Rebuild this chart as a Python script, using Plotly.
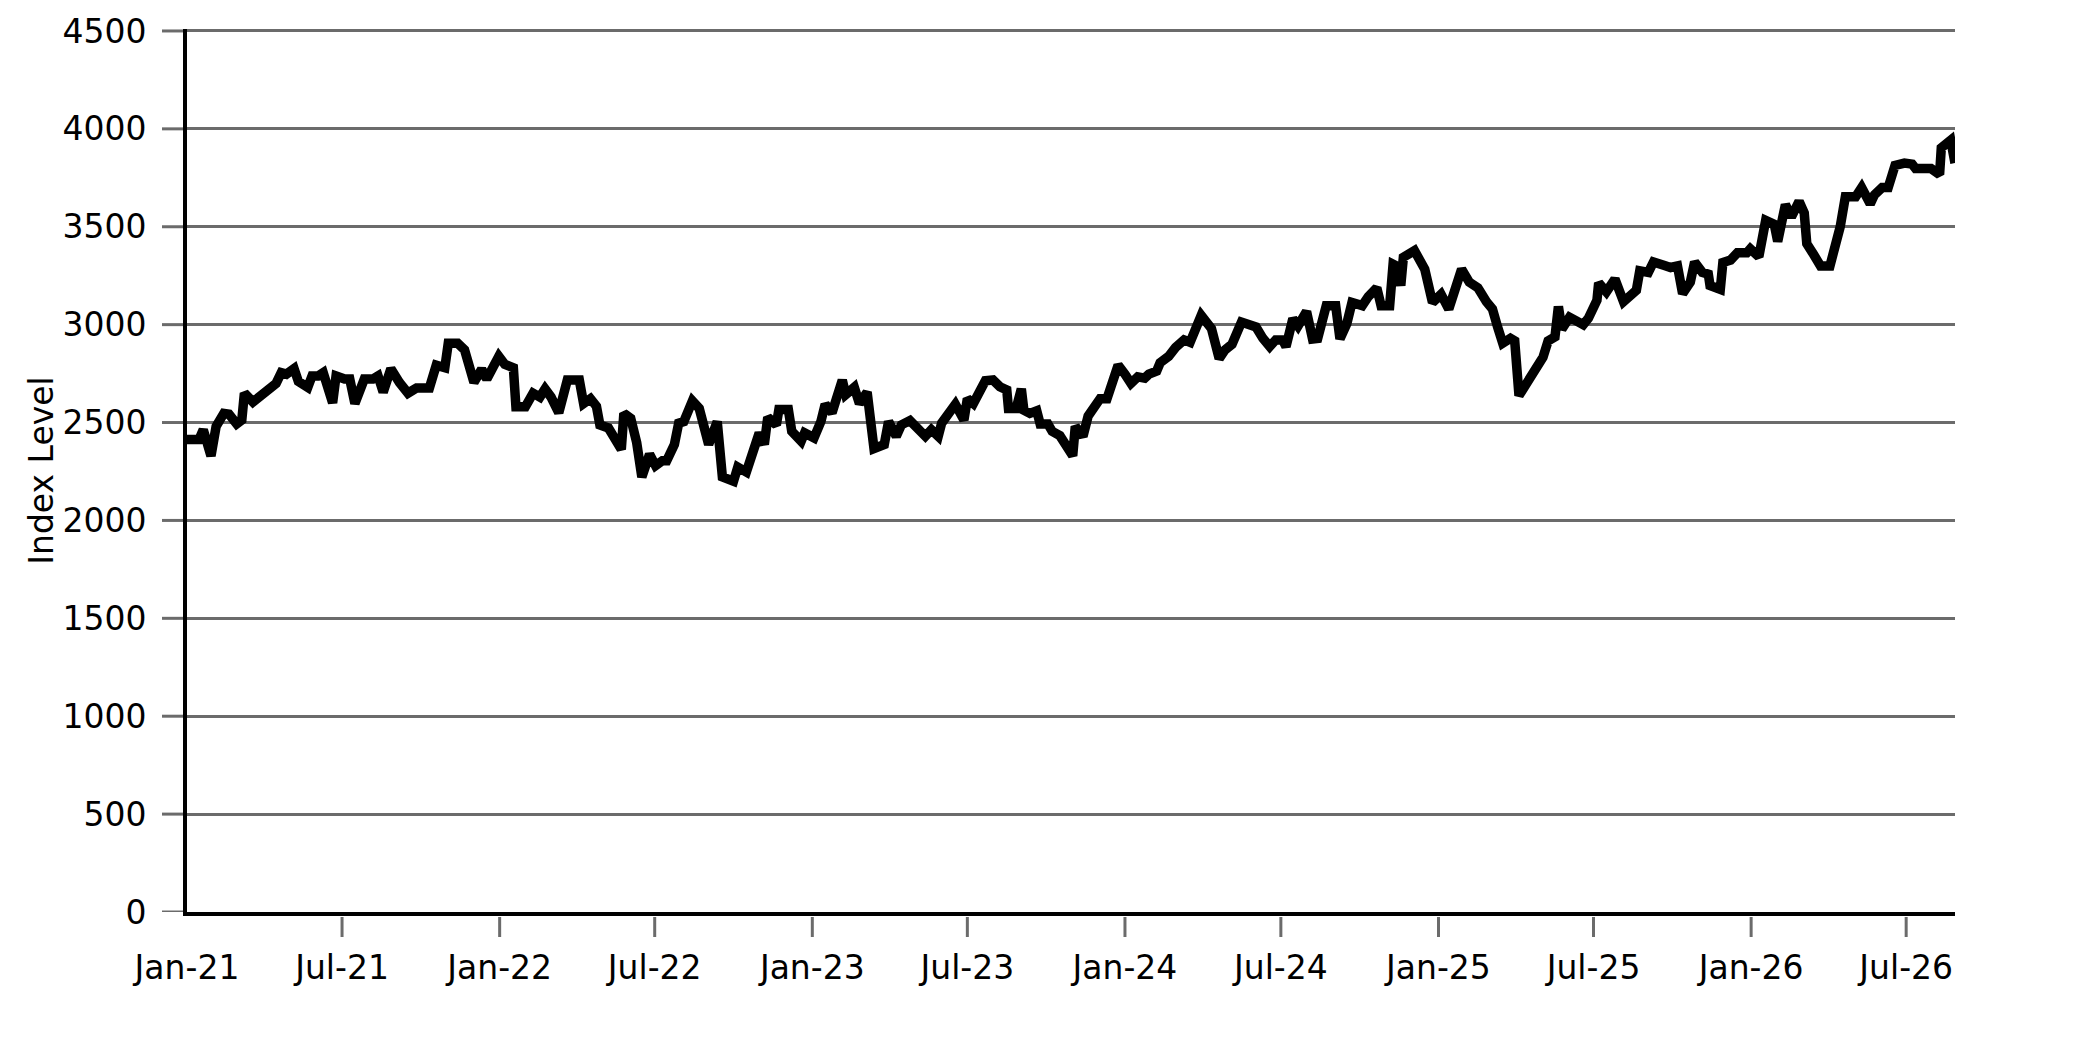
import pandas as pd
import plotly.graph_objects as go

# Index level: days since 2021-01-01 and value at each vertex
day_offsets = [
    0, 14, 19, 28, 34, 43, 49, 58, 64, 67, 77, 84, 93, 104, 110, 116, 125, 130, 141, 146,
    153, 159, 170, 174, 184, 190, 196, 207, 217, 223, 229, 238, 248, 258, 268, 283, 291, 301, 305, 316,
    324, 335, 344, 350, 364, 371, 381, 384, 395, 404, 412, 418, 425, 434, 444, 458, 463, 471, 478, 482,
    492, 500, 507, 510, 518, 525, 531, 540, 547, 555, 560, 569, 574, 580, 590, 598, 609, 619, 625, 638,
    643, 653, 668, 674, 678, 688, 691, 702, 706, 717, 721, 732, 740, 745, 753, 765, 769, 779, 785, 794,
    802, 814, 819, 828, 834, 844, 853, 862, 869, 877, 881, 888, 897, 907, 911, 918, 925, 932, 941, 949,
    957, 959, 968, 974, 977, 984, 992, 996, 1005, 1010, 1019, 1027, 1034, 1037, 1046, 1052, 1060, 1066, 1074, 1080,
    1087, 1095, 1102, 1110, 1118, 1123, 1132, 1136, 1146, 1154, 1164, 1171, 1184, 1196, 1205, 1212, 1220, 1231, 1248, 1256,
    1264, 1271, 1279, 1283, 1291, 1297, 1307, 1314, 1320, 1330, 1341, 1346, 1354, 1360, 1372, 1379, 1389, 1394, 1404, 1408,
    1412, 1417, 1420, 1433, 1445, 1454, 1464, 1473, 1488, 1497, 1507, 1517, 1524, 1530, 1536, 1545, 1550, 1555, 1568, 1575,
    1583, 1589, 1597, 1601, 1605, 1614, 1622, 1630, 1636, 1646, 1648, 1657, 1667, 1677, 1692, 1696, 1706, 1712, 1724, 1732,
    1740, 1746, 1755, 1760, 1769, 1776, 1778, 1790, 1793, 1802, 1810, 1821, 1825, 1835, 1843, 1853, 1857, 1866, 1873, 1882,
    1888, 1891, 1899, 1907, 1918, 1924, 1930, 1936, 1948, 1955, 1965, 1970, 1979, 1986, 1994, 2005, 2014, 2018, 2036, 2046,
    2048, 2059, 2064,
]
index_level = [
    2413, 2413, 2463, 2330, 2480, 2547, 2543, 2493, 2513, 2650, 2605, 2630, 2650, 2700, 2755, 2747, 2775, 2710, 2680, 2738,
    2738, 2755, 2600, 2738, 2722, 2722, 2597, 2722, 2722, 2738, 2655, 2775, 2705, 2650, 2677, 2677, 2793, 2780, 2905, 2905,
    2872, 2705, 2772, 2722, 2838, 2797, 2780, 2580, 2580, 2650, 2630, 2672, 2630, 2550, 2717, 2717, 2597, 2622, 2583, 2488,
    2472, 2405, 2363, 2547, 2522, 2397, 2222, 2338, 2280, 2305, 2305, 2388, 2497, 2505, 2610, 2572, 2388, 2505, 2222, 2200,
    2272, 2247, 2447, 2388, 2527, 2488, 2567, 2567, 2455, 2405, 2447, 2422, 2505, 2593, 2550, 2717, 2643, 2680, 2597, 2655,
    2367, 2388, 2505, 2430, 2488, 2510, 2472, 2430, 2463, 2430, 2497, 2533, 2593, 2513, 2622, 2597, 2650, 2713, 2717, 2683,
    2667, 2572, 2572, 2672, 2563, 2547, 2560, 2493, 2493, 2455, 2433, 2383, 2330, 2480, 2430, 2533, 2583, 2622, 2622, 2722,
    2793, 2747, 2700, 2733, 2727, 2747, 2763, 2805, 2838, 2883, 2922, 2910, 3047, 2980, 2827, 2872, 2900, 3013, 2988, 2930,
    2888, 2922, 2922, 2888, 3030, 2993, 3067, 2927, 2930, 3097, 3097, 2927, 3005, 3113, 3097, 3143, 3188, 3097, 3097, 3309,
    3300, 3200, 3344, 3378, 3283, 3113, 3155, 3080, 3283, 3217, 3188, 3117, 3080, 2988, 2905, 2930, 2917, 2638, 2722, 2783,
    2833, 2917, 2938, 3093, 2977, 3038, 3013, 3000, 3033, 3125, 3213, 3167, 3233, 3117, 3175, 3275, 3267, 3320, 3303, 3292,
    3300, 3158, 3217, 3320, 3267, 3258, 3200, 3180, 3317, 3330, 3367, 3367, 3387, 3347, 3533, 3513, 3425, 3613, 3550, 3630,
    3570, 3413, 3358, 3300, 3300, 3400, 3500, 3653, 3653, 3700, 3617, 3663, 3700, 3700, 3813, 3825, 3820, 3797, 3797, 3767,
    3903, 3942, 3825,
]

tick_dates = ["2021-01-01", "2021-07-01", "2022-01-01", "2022-07-01", "2023-01-01", "2023-07-01",
              "2024-01-01", "2024-07-01", "2025-01-01", "2025-07-01", "2026-01-01", "2026-07-01"]
y_ticks = [0, 500, 1000, 1500, 2000, 2500, 3000, 3500, 4000, 4500]

dates = pd.Timestamp("2021-01-01") + pd.to_timedelta(day_offsets, unit="D")

grey = "#6b6b6b"
font = dict(family="DejaVu Sans", size=33, color="black")

fig = go.Figure()
fig.add_trace(go.Scatter(x=dates, y=index_level, mode="lines",
                         line=dict(color="black", width=9.5), showlegend=False))

# tick marks sit a few pixels away from the axis lines, so draw them as shapes
for d in tick_dates[1:]:
    fig.add_shape(type="line", xref="x", x0=d, x1=d, yref="paper", ysizemode="pixel",
                  yanchor=0, y0=-5, y1=-25, line=dict(color=grey, width=3))
for v in y_ticks:
    fig.add_shape(type="line", yref="y", y0=v, y1=v, xref="paper", xsizemode="pixel",
                  xanchor=0, x0=-4, x1=-25, line=dict(color=grey, width=3))

fig.update_layout(
    width=2083, height=1042,
    margin=dict(l=187, r=128, t=18, b=130),
    paper_bgcolor="white", plot_bgcolor="white",
    font=font,
    xaxis=dict(range=[dates[0], dates[-1]], tickvals=tick_dates, tickformat="%b-%y",
               ticks="", showgrid=False, zeroline=False, showline=True,
               linecolor="black", linewidth=3.5, ticklabelstandoff=24, tickfont=font),
    # a little headroom above 4500 so its grid line is still drawn
    yaxis=dict(range=[0, 4510], tickvals=y_ticks, ticks="", showgrid=True,
               gridcolor=grey, gridwidth=3, zeroline=False, showline=True,
               linecolor="black", linewidth=4, ticklabelstandoff=30, tickfont=font,
               title=dict(text="Index Level", font=font, standoff=0)),
)

fig.write_html("out.html", config={"displayModeBar": False},
               post_script="document.body.style.margin='0';")
